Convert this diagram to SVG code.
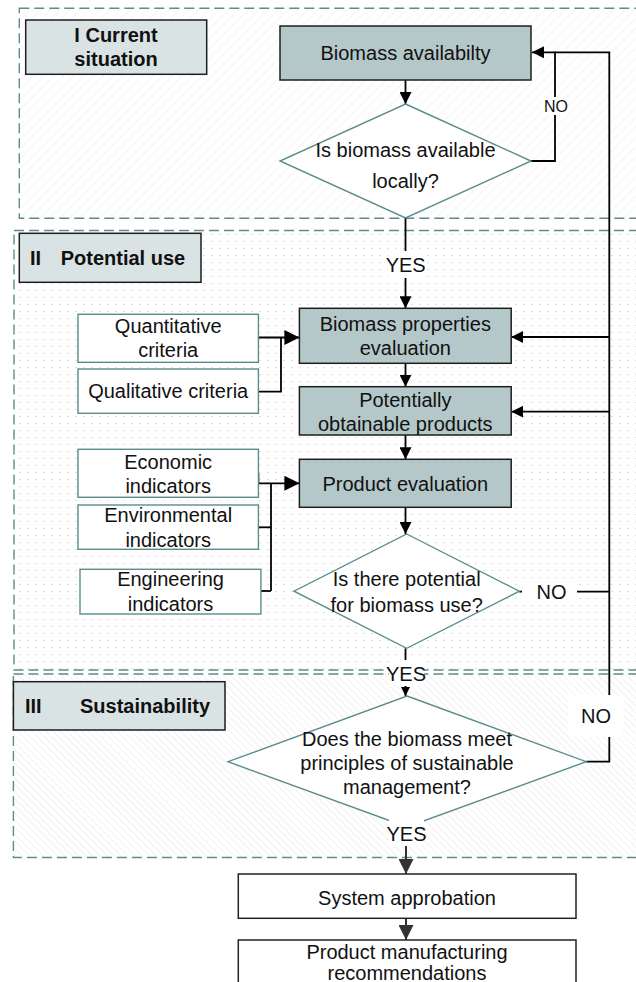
<svg xmlns="http://www.w3.org/2000/svg" width="636" height="982" viewBox="0 0 636 982">
<style>
.t{font-family:"Liberation Sans","Arial",sans-serif;font-size:20px;fill:#111;text-anchor:middle}
.b{font-weight:bold}
.reg{stroke:#5f8b8c;stroke-width:1.4;stroke-dasharray:10 5}
.title{fill:#d9e3e3;stroke:#1e1e1e;stroke-width:1.5}
.dark{fill:#b4c8c9;stroke:#1e1e1e;stroke-width:1.5}
.crit{fill:#fff;stroke:#5b8c8c;stroke-width:1.4}
.dia{fill:#fff;stroke:#5b8c8c;stroke-width:1.4}
.out{fill:#fff;stroke:#222;stroke-width:1.5}
.c{fill:none;stroke:#000;stroke-width:1.8}
.cd{fill:none;stroke:#333;stroke-width:2}
.bg{fill:#fff}
</style>
<defs>
<pattern id="h1" width="7" height="7" patternUnits="userSpaceOnUse" patternTransform="rotate(45)"><line x1="0" y1="0" x2="0" y2="7" stroke="#ebebeb" stroke-width="1"/></pattern>
<pattern id="h3" width="5" height="5" patternUnits="userSpaceOnUse" patternTransform="rotate(-45)"><line x1="0" y1="0" x2="0" y2="5" stroke="#e4e4e4" stroke-width="1"/></pattern>
<pattern id="dots" width="8" height="7" patternUnits="userSpaceOnUse"><circle cx="4" cy="3.5" r="0.8" fill="#d6d6d6"/></pattern>
<marker id="a" markerUnits="userSpaceOnUse" markerWidth="12" markerHeight="12" refX="12" refY="6" orient="auto"><path d="M0,0 L12,6 L0,12 z" fill="#000"/></marker>
<marker id="aB" markerUnits="userSpaceOnUse" markerWidth="15" markerHeight="15" refX="15" refY="7.5" orient="auto"><path d="M0,0 L15,7.5 L0,15 z" fill="#000"/></marker>
<marker id="aS" markerUnits="userSpaceOnUse" markerWidth="9" markerHeight="9" refX="9" refY="4.5" orient="auto"><path d="M0,0 L9,4.5 L0,9 z" fill="#000"/></marker>
<marker id="aD" markerUnits="userSpaceOnUse" markerWidth="15" markerHeight="15" refX="15" refY="7.5" orient="auto"><path d="M0,0 L15,7.5 L0,15 z" fill="#333"/></marker>
</defs>
<rect width="636" height="982" fill="#fff"/>

<g id="regions">
<rect class="reg" x="19.3" y="8.3" width="640" height="210" fill="url(#h1)"/>
<rect class="reg" x="14" y="230.5" width="640" height="439.5" fill="url(#dots)"/>
<rect class="reg" x="13.4" y="674" width="640" height="183.5" fill="url(#h3)"/>
</g>

<g id="title1"><rect class="title" x="25.7" y="20" width="181" height="54.3"/><text class="t b" x="116" y="41.7">I Current</text><text class="t b" x="116" y="65.7">situation</text></g>
<g id="title2"><rect class="title" x="19.3" y="233.3" width="181.7" height="49"/><text class="t b" x="30" y="265" style="text-anchor:start">II</text><text class="t b" x="60.7" y="265" style="text-anchor:start">Potential use</text></g>
<g id="title3"><rect class="title" x="13.4" y="681.7" width="211.6" height="48.3"/><text class="t b" x="25" y="713.3" style="text-anchor:start">III</text><text class="t b" x="80" y="713.3" style="text-anchor:start">Sustainability</text></g>

<g id="connectors">
<path class="c" d="M405.5,80 V104" marker-end="url(#a)"/>
<path class="c" d="M531,161 H555 V52.3 H532" marker-end="url(#a)"/>
<path class="c" d="M586,761.7 H609.3 V52.3 H555"/>
<path class="c" d="M405.5,218 V308.3" marker-end="url(#a)"/>
<path class="c" d="M609.3,337 H511.2" marker-end="url(#a)"/>
<path class="c" d="M609.3,411.7 H511.2" marker-end="url(#a)"/>
<path class="c" d="M519.3,591.7 H609.3"/>
<path class="c" d="M405.5,363.3 V386.7" marker-end="url(#a)"/>
<path class="c" d="M405.5,435 V459.3" marker-end="url(#a)"/>
<path class="c" d="M405.5,507.3 V534" marker-end="url(#a)"/>
<path class="c" d="M405.5,648.3 V696" marker-end="url(#aS)"/>
<path class="cd" d="M406,823 V874" marker-end="url(#aD)"/>
<path class="cd" d="M406,918.3 V940" marker-end="url(#aD)"/>
<path class="c" d="M258.4,337.5 H299.4" marker-end="url(#aB)"/>
<path class="c" d="M258.4,391.7 H281 V337.5"/>
<path class="c" d="M258.4,473.3 V483.3 H299.4" marker-end="url(#aB)"/>
<path class="c" d="M271,483.3 V591"/>
<path class="c" d="M258.4,527.3 H271"/>
<path class="c" d="M260.9,591 H271"/>
</g>

<g id="biomass-availability"><rect class="dark" x="280" y="26" width="251" height="54"/><text class="t" x="405.5" y="60">Biomass availabilty</text></g>
<g id="q-local"><polygon class="dia" points="405.5,104 531,161 405.5,218 280,161"/><text class="t" x="405.5" y="157">Is biomass available</text><text class="t" x="405.5" y="188">locally?</text></g>

<g id="quantitative"><rect class="crit" x="78" y="314.3" width="180.4" height="48"/><text class="t" x="168.2" y="333.3">Quantitative</text><text class="t" x="168.2" y="357.3">criteria</text></g>
<g id="qualitative"><rect class="crit" x="78" y="369" width="180.4" height="44.3"/><text class="t" x="168.2" y="398.3">Qualitative criteria</text></g>
<g id="properties"><rect class="dark" x="299.4" y="308.3" width="211.8" height="55"/><text class="t" x="405.3" y="331">Biomass properties</text><text class="t" x="405.3" y="355">evaluation</text></g>
<g id="products"><rect class="dark" x="299.4" y="386.7" width="211.8" height="48.3"/><text class="t" x="405.3" y="407">Potentially</text><text class="t" x="405.3" y="430.7">obtainable products</text></g>
<g id="economic"><rect class="crit" x="78" y="449.3" width="180.4" height="48"/><text class="t" x="168.2" y="469">Economic</text><text class="t" x="168.2" y="493.3">indicators</text></g>
<g id="environmental"><rect class="crit" x="78" y="505" width="180.4" height="44.3"/><text class="t" x="168.2" y="522.3">Environmental</text><text class="t" x="168.2" y="546.7">indicators</text></g>
<g id="engineering"><rect class="crit" x="80" y="569.3" width="180.9" height="44.7"/><text class="t" x="170.5" y="586">Engineering</text><text class="t" x="170.5" y="610.7">indicators</text></g>
<g id="product-evaluation"><rect class="dark" x="299.4" y="459.3" width="211.8" height="48"/><text class="t" x="405.3" y="490.7">Product evaluation</text></g>
<g id="q-potential"><polygon class="dia" points="406.7,534 519.3,591.2 406.7,648.3 294,591.2"/><text class="t" x="406.7" y="586">Is there potential</text><text class="t" x="406.7" y="611.7">for biomass use?</text></g>

<g id="q-sustainable"><polygon class="dia" points="407,696 586.2,761.7 407,827 228,761.7"/><text class="t" x="407" y="745.7">Does the biomass meet</text><text class="t" x="407" y="770">principles of sustainable</text><text class="t" x="407" y="794.3">management?</text></g>
<g id="system"><rect class="out" x="238.3" y="874" width="337.7" height="44.3"/><text class="t" x="407" y="905">System approbation</text></g>
<g id="recommendations"><rect class="out" x="238.3" y="940" width="337.7" height="60"/><text class="t" x="407" y="959.3">Product manufacturing</text><text class="t" x="407" y="980">recommendations</text></g>

<g id="labels">
<rect class="bg" x="543" y="97" width="25" height="18"/><text class="t" x="556" y="112" style="font-size:16px">NO</text>
<rect class="bg" x="388" y="251" width="35" height="27"/><text class="t" x="405.7" y="271.7">YES</text>
<rect class="bg" x="522" y="581" width="55" height="22"/><text class="t" x="551.5" y="599">NO</text>
<rect class="bg" x="389" y="660" width="35" height="26"/><text class="t" x="406" y="680.7">YES</text>
<rect class="bg" x="568" y="695" width="55" height="42"/><text class="t" x="596" y="723">NO</text>
<rect class="bg" x="389" y="819" width="35" height="27"/><text class="t" x="406.5" y="840.7">YES</text>
</g>
</svg>
